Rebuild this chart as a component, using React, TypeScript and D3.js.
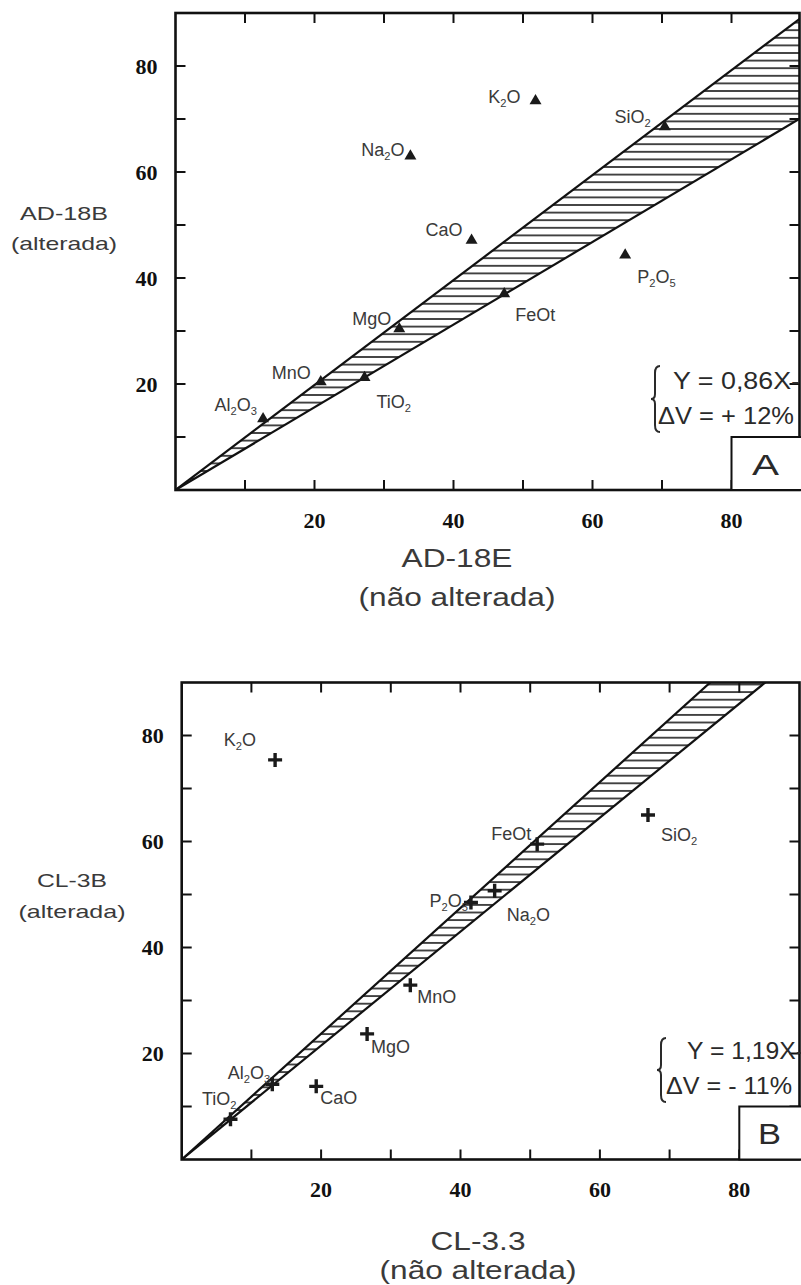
import React from "react";
import * as d3 from "d3";

// oxides, same order in both panels
const oxides = ["SiO2", "Al2O3", "TiO2", "FeOt", "MnO", "MgO", "CaO", "Na2O", "K2O", "P2O5"];

// panel A : AD-18E (não alterada) vs AD-18B (alterada)
const adUnaltered = [70.4, 12.6, 27.2, 47.3, 20.9, 32.2, 42.6, 33.8, 51.8, 64.7];
const adAltered = [68.7, 13.6, 21.4, 37.2, 20.6, 30.6, 47.3, 63.2, 73.6, 44.5];

// panel B : CL-3.3 (não alterada) vs CL-3B (alterada)
const clUnaltered = [66.9, 13.0, 7.0, 51.0, 32.8, 26.6, 19.3, 44.9, 13.4, 41.5];
const clAltered = [65.0, 14.2, 7.6, 59.5, 32.9, 23.7, 13.8, 50.7, 75.4, 48.5];

// slopes of the two lines bounding the hatched isocon band
const bandA = [0.99, 0.78];
const bandB = [1.187, 1.075];

const minorTicks = [10, 20, 30, 40, 50, 60, 70, 80];
const tickLabels = [20, 40, 60, 80];

// label placement [anchor, dx, dy]
const placeA = {
  SiO2: ["end", -14, -3], Al2O3: ["end", -6, -7], TiO2: ["start", 12, 31],
  FeOt: ["start", 11, 28], MnO: ["end", -10, -2], MgO: ["end", -8, -3],
  CaO: ["end", -9, -3], Na2O: ["end", -6, 1], K2O: ["end", -15, 3],
  P2O5: ["start", 12, 29],
};
const placeB = {
  SiO2: ["start", 13, 26], Al2O3: ["end", -2, -5], TiO2: ["end", 6, -14],
  FeOt: ["end", -6, -4], MnO: ["start", 7, 18], MgO: ["start", 4, 19],
  CaO: ["start", 4, 18], Na2O: ["start", 12, 30], K2O: ["end", -19, -14],
  P2O5: ["end", -3, 5],
};

const SANS = "'Liberation Sans', Arial, Helvetica, sans-serif";
const SERIF = "'Liberation Serif', 'Times New Roman', serif";
const INK = "#2a2a2a";
const GREY = "#3a3a3a";

function Formula({ name, size }) {
  // digits become subscripts
  const parts = name.match(/[A-Za-z]+|\d+/g) || [];
  let sub = false;
  return parts.map((p, i) => {
    const isNum = /\d/.test(p);
    const dy = isNum && !sub ? 4 : !isNum && sub ? -4 : 0;
    sub = isNum;
    return (
      <tspan key={i} dy={dy} fontSize={isNum ? size * 0.62 : size}>
        {p}
      </tspan>
    );
  });
}

// text stretched to a given width, like the scanned original
function Wide({ x, y, w, size, anchor = "start", children, fill = GREY }) {
  return (
    <text
      x={x}
      y={y}
      fontSize={size}
      textAnchor={anchor}
      textLength={w}
      lengthAdjust="spacingAndGlyphs"
      fontFamily={SANS}
      fill={fill}
    >
      {children}
    </text>
  );
}

function Brace({ x, y1, y2 }) {
  const ym = (y1 + y2) / 2;
  const p = d3.path();
  p.moveTo(x + 5, y1);
  p.quadraticCurveTo(x, y1, x, y1 + 7);
  p.lineTo(x, ym - 5);
  p.quadraticCurveTo(x, ym, x - 4, ym);
  p.quadraticCurveTo(x, ym, x, ym + 5);
  p.lineTo(x, y2 - 7);
  p.quadraticCurveTo(x, y2, x + 5, y2);
  return <path d={p.toString()} fill="none" stroke={INK} strokeWidth={2} />;
}

function Panel({ cfg }) {
  const x = d3.scaleLinear().domain([0, 90]).range([cfg.left, cfg.right]);
  const y = d3.scaleLinear().domain([0, 90]).range([cfg.bottom, cfg.top]);
  const right = Math.min(x(90), 799.5);
  const clipId = `clip-${cfg.id}`;
  const hatchId = `hatch-${cfg.id}`;
  const [sUp, sLo] = cfg.band;
  const line = d3.line().x((d) => x(d[0])).y((d) => y(d[1]));
  const bandPath = line([[0, 0], [120, 120 * sUp], [120, 120 * sLo]]) + "Z";
  const upper = line([[0, 0], [120, 120 * sUp]]);
  const lower = line([[0, 0], [120, 120 * sLo]]);
  const points = oxides.map((n, i) => ({ name: n, vx: cfg.xs[i], vy: cfg.ys[i] }));
  const tri = d3.symbol(d3.symbolTriangle, 62);
  const labelSize = 18;

  return (
    <g>
      <defs>
        <clipPath id={clipId}>
          <rect x={cfg.left} y={cfg.top} width={right - cfg.left} height={cfg.bottom - cfg.top} />
        </clipPath>
        <pattern id={hatchId} patternUnits="userSpaceOnUse" width={12} height={7.6} y={cfg.bottom}>
          <line x1={0} x2={12} y1={3.8} y2={3.8} stroke={INK} strokeWidth={1.7} />
        </pattern>
      </defs>

      <g clipPath={`url(#${clipId})`}>
        <path d={bandPath} fill={`url(#${hatchId})`} />
        <path d={upper} stroke="#111" strokeWidth={2.2} fill="none" />
        <path d={lower} stroke="#111" strokeWidth={2.2} fill="none" />
      </g>

      {/* frame */}
      <rect
        x={cfg.left}
        y={cfg.top}
        width={right - cfg.left}
        height={cfg.bottom - cfg.top}
        fill="none"
        stroke="#111"
        strokeWidth={2.6}
      />

      {/* inward ticks on all sides */}
      {minorTicks.map((t) => (
        <g key={t} stroke="#111" strokeWidth={2}>
          <line x1={x(t)} x2={x(t)} y1={cfg.bottom} y2={cfg.bottom - 10} />
          <line x1={x(t)} x2={x(t)} y1={cfg.top} y2={cfg.top + 10} />
          <line x1={cfg.left} x2={cfg.left + 10} y1={y(t)} y2={y(t)} />
          <line x1={right} x2={right - 10} y1={y(t)} y2={y(t)} />
        </g>
      ))}

      {tickLabels.map((t) => (
        <g key={t} fontFamily={SERIF} fontWeight="bold" fontSize={22} fill="#111">
          <text x={x(t)} y={cfg.bottom + 37.5} textAnchor="middle">
            {t}
          </text>
          <text x={cfg.left - 18} y={y(t) + 7.5} textAnchor="end">
            {t}
          </text>
        </g>
      ))}

      {/* box with panel letter */}
      <rect
        x={x(80)}
        y={y(10)}
        width={right - x(80) + 20}
        height={cfg.bottom - y(10)}
        fill="#fff"
        stroke="#111"
        strokeWidth={2}
      />
      <Wide
        x={(x(80) + right) / 2}
        y={(y(10) + cfg.bottom) / 2 + 11}
        w={cfg.letterW}
        size={30}
        anchor="middle"
        fill={INK}
      >
        {cfg.letter}
      </Wide>

      {/* equation */}
      <Brace x={cfg.eq.x} y1={cfg.eq.y1} y2={cfg.eq.y2} />
      <Wide x={cfg.eq.x1} y={cfg.eq.b1} w={cfg.eq.w1} size={23} fill={INK}>
        {cfg.eq.line1}
      </Wide>
      <Wide x={cfg.eq.x2} y={cfg.eq.b2} w={cfg.eq.w2} size={23} fill={INK}>
        {cfg.eq.line2}
      </Wide>

      {/* points */}
      {points.map((p) => {
        const px = x(p.vx);
        const py = y(p.vy);
        const [anchor, dx, dy] = cfg.place[p.name];
        return (
          <g key={p.name}>
            {cfg.marker === "triangle" ? (
              <path d={tri()} transform={`translate(${px},${py + 1})`} fill="#1a1a1a" />
            ) : (
              <path
                d={`M${px - 7},${py}H${px + 7}M${px},${py - 7}V${py + 7}`}
                stroke="#1a1a1a"
                strokeWidth={3.4}
              />
            )}
            <text
              x={px + dx}
              y={py + dy}
              textAnchor={anchor}
              fontFamily={SANS}
              fontSize={labelSize}
              fill={GREY}
            >
              <Formula name={p.name} size={labelSize} />
            </text>
          </g>
        );
      })}

      {/* axis titles */}
      <Wide x={cfg.yTitle.x} y={cfg.yTitle.y1} w={cfg.yTitle.w1} size={19} anchor="middle">
        {cfg.yTitle.line1}
      </Wide>
      <Wide x={cfg.yTitle.x} y={cfg.yTitle.y2} w={cfg.yTitle.w2} size={19} anchor="middle">
        (alterada)
      </Wide>
      <Wide x={cfg.xTitle.x} y={cfg.xTitle.y1} w={cfg.xTitle.w1} size={25} anchor="middle">
        {cfg.xTitle.line1}
      </Wide>
      <Wide x={cfg.xTitle.x} y={cfg.xTitle.y2} w={cfg.xTitle.w2} size={25} anchor="middle">
        (não alterada)
      </Wide>
    </g>
  );
}

const panels = [
  {
    id: "a",
    left: 175.5,
    right: 801,
    top: 13,
    bottom: 490,
    xs: adUnaltered,
    ys: adAltered,
    band: bandA,
    marker: "triangle",
    place: placeA,
    letter: "A",
    letterW: 27,
    eq: {
      x: 655, y1: 366, y2: 432,
      x1: 673, b1: 389, w1: 127, line1: "Y = 0,86X-",
      x2: 658, b2: 424, w2: 136, line2: "ΔV = + 12%",
    },
    yTitle: { x: 64, y1: 220, y2: 250, w1: 88, w2: 106, line1: "AD-18B" },
    xTitle: { x: 457, y1: 567, y2: 606, w1: 111, w2: 197, line1: "AD-18E" },
  },
  {
    id: "b",
    left: 181.7,
    right: 809,
    top: 682.5,
    bottom: 1159.5,
    xs: clUnaltered,
    ys: clAltered,
    band: bandB,
    marker: "cross",
    place: placeB,
    letter: "B",
    letterW: 23,
    eq: {
      x: 661, y1: 1038, y2: 1102,
      x1: 687, b1: 1059, w1: 117, line1: "Y = 1,19X-",
      x2: 666, b2: 1094, w2: 126, line2: "ΔV = - 11%",
    },
    yTitle: { x: 72, y1: 887, y2: 918, w1: 70, w2: 107, line1: "CL-3B" },
    xTitle: { x: 478, y1: 1250, y2: 1279, w1: 95, w2: 197, line1: "CL-3.3" },
  },
];

export default function App() {
  return (
    <svg
      width={801}
      height={1285}
      style={{ position: "absolute", left: 0, top: 0, background: "#fff" }}
    >
      <rect width={801} height={1285} fill="#fff" />
      {panels.map((cfg) => (
        <Panel key={cfg.id} cfg={cfg} />
      ))}
    </svg>
  );
}
